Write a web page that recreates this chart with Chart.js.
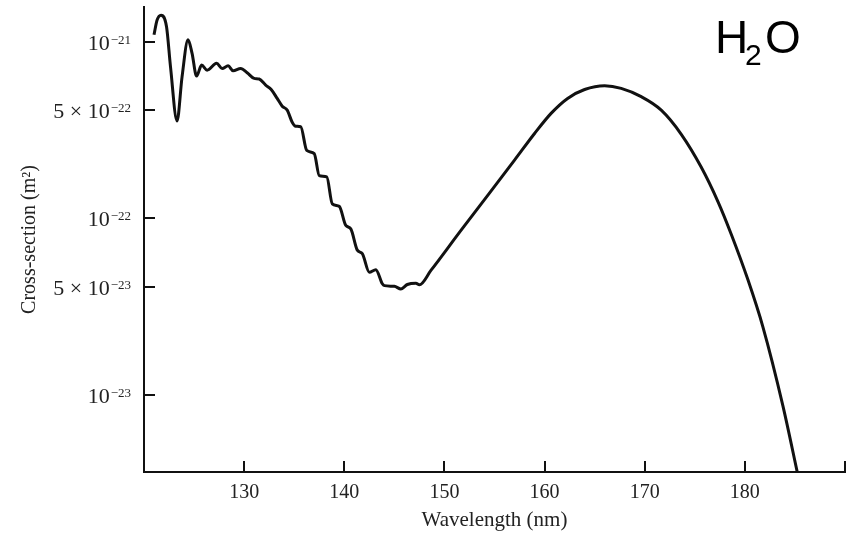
<!DOCTYPE html>
<html lang="en">
<head>
    <meta charset="UTF-8">
    <title>H2O cross-section</title>
    <script src="https://cdn.jsdelivr.net/npm/chart.js"></script>
    <style>
        body { margin: 0; background: #fff; }
        #chartContainer { width: 850px; height: 533px; }
    </style>
</head>
<body>
    <div id="chartContainer">
        <canvas id="xsChart" width="850" height="533"></canvas>
    </div>

    <script>
        // wavelength in nm, cross-section in m^2
        var wavelength = [121.0, 121.3, 121.7, 122.25, 122.65, 123.3, 123.8, 124.4, 124.8, 125.25, 125.75,
            126.3, 127.25, 127.8, 128.4, 128.9, 129.65, 130.3, 131.0, 131.5, 132.15,
            132.7, 133.3, 133.8, 134.3, 134.8, 135.15, 135.65, 136.25, 137.0, 137.5,
            138.25, 138.8, 139.5, 140.15, 140.65, 141.3, 141.8, 142.5, 143.15, 143.8,
            144.0, 145.0, 145.65, 146.3, 147.15, 147.5, 148.65, 151.65, 157.0, 159.0,
            160.65, 162.3, 164.0, 166.0, 167.65, 169.65, 171.65, 173.65, 175.65, 177.3,
            178.65, 180.3, 181.8, 183.8, 185.3];
        var crossSection = [1.10e-21, 1.33e-21, 1.42e-21, 1.22e-21, 7.20e-22, 3.57e-22, 6.35e-22, 1.03e-21, 8.63e-22, 6.41e-22, 7.40e-22,
            6.93e-22, 7.57e-22, 7.08e-22, 7.33e-22, 6.87e-22, 7.08e-22, 6.70e-22, 6.22e-22, 6.17e-22, 5.70e-22,
            5.38e-22, 4.79e-22, 4.33e-22, 4.11e-22, 3.51e-22, 3.33e-22, 3.31e-22, 2.43e-22, 2.33e-22, 1.75e-22,
            1.72e-22, 1.21e-22, 1.17e-22, 9.12e-23, 8.73e-23, 6.61e-23, 6.31e-23, 4.95e-23, 5.12e-23, 4.26e-23,
            4.16e-23, 4.12e-23, 3.98e-23, 4.22e-23, 4.29e-23, 4.20e-23, 5.07e-23, 8.55e-23, 2.14e-22, 3.03e-22,
            3.94e-22, 4.79e-22, 5.38e-22, 5.65e-22, 5.46e-22, 4.90e-22, 4.11e-22, 3.00e-22, 1.95e-22, 1.25e-22,
            8.11e-23, 4.50e-23, 2.43e-23, 8.66e-24, 3.5e-24];

        var xTicks = [130, 140, 150, 160, 170, 180, 190];
        // the 5x ticks sit where the original figure puts them
        var yTickValues = [1e-21, 4.1e-22, 1e-22, 4.1e-23, 1e-23];
        var yTickMantissa = ['10', '5 \u00d7 10', '10', '5 \u00d7 10', '10'];
        var yTickExponent = ['\u221221', '\u221222', '\u221222', '\u221223', '\u221223'];

        var serif = "'Liberation Serif', 'DejaVu Serif', serif";

        // inward tick marks, y labels with superscripts, and the H2O tag
        var decorations = {
            id: 'decorations',
            afterDraw: function(chart) {
                var ctx = chart.ctx;
                var xs = chart.scales.x, ys = chart.scales.y;
                var area = chart.chartArea;
                ctx.save();
                ctx.strokeStyle = '#111';
                ctx.lineWidth = 2;
                xTicks.forEach(function(t) {
                    var px = Math.round(xs.getPixelForValue(t));
                    ctx.beginPath();
                    ctx.moveTo(px, area.bottom);
                    ctx.lineTo(px, area.bottom - 11);
                    ctx.stroke();
                });
                yTickValues.forEach(function(v, i) {
                    var py = Math.round(ys.getPixelForValue(v));
                    ctx.beginPath();
                    ctx.moveTo(area.left, py);
                    ctx.lineTo(area.left + 11, py);
                    ctx.stroke();

                    ctx.fillStyle = '#222';
                    ctx.textAlign = 'right';
                    ctx.textBaseline = 'alphabetic';
                    ctx.font = '13px ' + serif;
                    var expW = ctx.measureText(yTickExponent[i]).width;
                    ctx.fillText(yTickExponent[i], 131, py + 2);
                    ctx.font = '22px ' + serif;
                    ctx.fillText(yTickMantissa[i], 131 - expW - 1, py + 8);
                });

                ctx.fillStyle = '#000';
                ctx.textAlign = 'left';
                ctx.textBaseline = 'alphabetic';
                ctx.font = "46px 'Liberation Sans', Arial, sans-serif";
                ctx.fillText('H', 715, 53);
                ctx.font = "30px 'Liberation Sans', Arial, sans-serif";
                ctx.fillText('2', 745, 65);
                ctx.font = "46px 'Liberation Sans', Arial, sans-serif";
                ctx.fillText('O', 765, 53);
                ctx.restore();
            }
        };

        var ctx = document.getElementById('xsChart').getContext('2d');
        var xsChart = new Chart(ctx, {
            type: 'line',
            data: {
                datasets: [{
                    label: 'H2O',
                    data: wavelength.map(function(w, i) { return { x: w, y: crossSection[i] }; }),
                    borderColor: '#111',
                    borderWidth: 3,
                    pointRadius: 0,
                    fill: false,
                    cubicInterpolationMode: 'monotone'
                }]
            },
            options: {
                responsive: false,
                animation: false,
                layout: { padding: { top: 7, right: 5, left: 1, bottom: 0 } },
                plugins: {
                    legend: { display: false },
                    tooltip: { enabled: false }
                },
                scales: {
                    x: {
                        type: 'linear',
                        min: 120,
                        max: 190,
                        grid: { display: false },
                        border: { display: true, color: '#111', width: 2 },
                        ticks: {
                            stepSize: 10,
                            padding: 1,
                            color: '#222',
                            font: { family: serif, size: 20 },
                            callback: function(v) { return (v === 120 || v === 190) ? '' : v; }
                        },
                        title: {
                            display: true,
                            text: 'Wavelength (nm)',
                            color: '#222',
                            font: { family: serif, size: 21 },
                            padding: { top: 0, bottom: 0 }
                        },
                        afterFit: function(scale) { scale.height = 61; }
                    },
                    y: {
                        type: 'logarithmic',
                        min: 3.65e-24,
                        max: 1.58e-21,
                        grid: { display: false },
                        border: { display: true, color: '#111', width: 2 },
                        ticks: { display: false },
                        title: {
                            display: true,
                            text: 'Cross-section (m\u00b2)',
                            color: '#222',
                            font: { family: serif, size: 20 },
                            padding: { top: 17, bottom: 0 }
                        },
                        afterFit: function(scale) { scale.width = 143; }
                    }
                }
            },
            plugins: [decorations]
        });
    </script>
</body>
</html>
